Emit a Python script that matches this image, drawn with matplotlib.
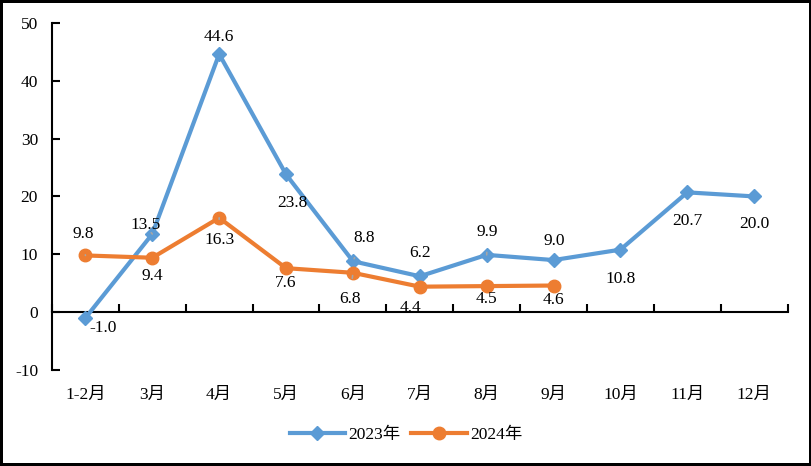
import matplotlib
matplotlib.use("Agg")
import matplotlib.pyplot as plt
import numpy as np

categories = ["1-2月", "3月", "4月", "5月", "6月", "7月", "8月", "9月", "10月", "11月", "12月"]
values_2023 = [-1.0, 13.5, 44.6, 23.8, 8.8, 6.2, 9.9, 9.0, 10.8, 20.7, 20.0]
values_2024 = [9.8, 9.4, 16.3, 7.6, 6.8, 4.4, 4.5, 4.6]
series_names = ["2023年", "2024年"]
y_ticks = [-10, 0, 10, 20, 30, 40, 50]

# label offsets in pixels (style)
off_2023 = [(18, -10), (-7, 9), (0, 17), (6, -29), (11, 23), (0, 23), (1, 23), (1, 19), (0, -29), (0, -29), (0, -28)]
off_2024 = [(-2, 21), (0, -18), (0, -22), (0, -15), (-3, -26), (-9, -21), (0, -13), (0, -14)]
leader_2023 = {1, 4, 6}
leader_2024 = {0, 2, 4}

plt.rcParams['font.family'] = ['Liberation Serif', 'Noto Sans CJK SC']
plt.rcParams['font.size'] = 12.5

blue = "#5B9BD5"
orange = "#ED7D31"

fig = plt.figure(figsize=(8.12, 4.66), dpi=100)
fig.patch.set_edgecolor("black")
fig.patch.set_linewidth(3)
ax = fig.add_axes([0.064, 0.206, 0.906, 0.745])

x23 = np.arange(len(values_2023))
x24 = np.arange(len(values_2024))
l1, = ax.plot(x23, values_2023, color=blue, lw=3, marker="D", ms=7, label=series_names[0], zorder=3)
l2, = ax.plot(x24, values_2024, color=orange, lw=3, marker="o", ms=9, label=series_names[1], zorder=4)

def label(xs, ys, offs, leaders):
    for i, (xv, yv) in enumerate(zip(xs, ys)):
        dx, dy = offs[i]
        kw = {}
        if i in leaders:
            kw["arrowprops"] = dict(arrowstyle="-", color="#A6A6A6", lw=1.2, shrinkA=7, shrinkB=2)
        ax.annotate(f"{yv:.1f}", (xv, yv), xytext=(dx, dy), textcoords="offset pixels",
                    ha="center", va="center", fontsize=12.5, color="black", zorder=5, **kw)

label(x23, values_2023, off_2023, leader_2023)
label(x24, values_2024, off_2024, leader_2024)

ax.set_xlim(-0.5, len(categories) - 0.5)
ax.set_ylim(-10, 50)
ax.set_yticks(y_ticks)
ax.set_yticklabels([str(t) for t in y_ticks])
ax.tick_params(axis="y", direction="in", length=6, width=1.5, pad=10, labelsize=12.5)

for s in ["top", "right"]:
    ax.spines[s].set_visible(False)
ax.spines["left"].set_linewidth(1.5)
ax.spines["bottom"].set_position(("data", 0))
ax.spines["bottom"].set_linewidth(1.5)
ax.set_xticks(np.arange(len(categories) + 1) - 0.5)
ax.set_xticklabels([])
ax.tick_params(axis="x", direction="in", length=6, width=1.5)

sec = ax.secondary_xaxis(0)
sec.set_xticks(np.arange(len(categories)))
sec.set_xticklabels(categories)
sec.tick_params(axis="x", length=0, pad=12, labelsize=12.5)
sec.spines["bottom"].set_visible(False)

fig.legend(handles=[l1, l2], loc="center", bbox_to_anchor=(0.5, 0.066), ncol=2, frameon=False,
           fontsize=12.5, handlelength=3.2, columnspacing=0.6, handletextpad=0.2)

fig.savefig("out.png", dpi=100, edgecolor=fig.get_edgecolor())
